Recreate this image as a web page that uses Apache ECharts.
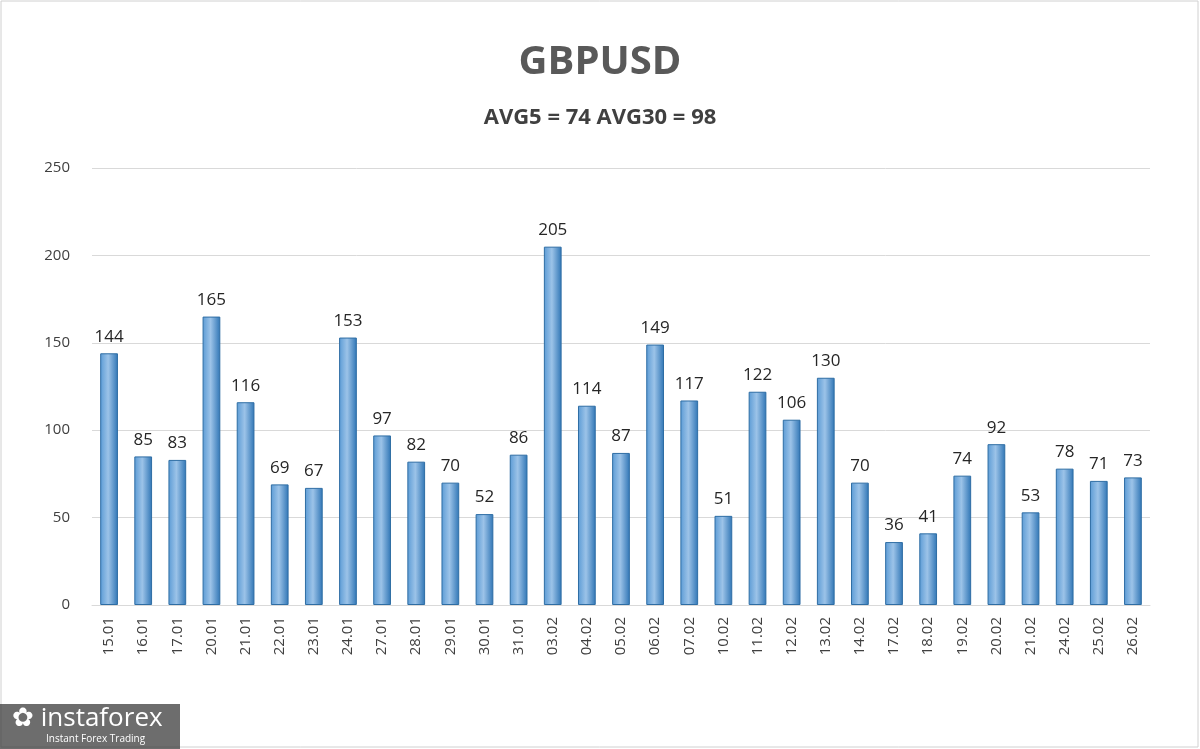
<!DOCTYPE html>
<html><head><meta charset="utf-8">
<script src="https://cdn.jsdelivr.net/npm/echarts@6/dist/echarts.min.js"></script>
<style>html,body{margin:0;padding:0;background:#fff}#c{width:1200px;height:749px}</style>
</head><body><div id="c"></div>
<script>
const dates = ['15.01','16.01','17.01','20.01','21.01','22.01','23.01','24.01','27.01','28.01','29.01','30.01','31.01','03.02','04.02','05.02','06.02','07.02','10.02','11.02','12.02','13.02','14.02','17.02','18.02','19.02','20.02','21.02','24.02','25.02','26.02'];
const values = [144,85,83,165,116,69,67,153,97,82,70,52,86,205,114,87,149,117,51,122,106,130,70,36,41,74,92,53,78,71,73];
const yTicks = [0, 50, 100, 150, 200, 250];

const chart = echarts.init(document.getElementById('c'));
chart.setOption({
  animation: false,
  backgroundColor: '#fff',
  title: [{
    text: 'GBPUSD', left: 'center', top: 38,
    textStyle: { fontSize: 40, fontWeight: 'bold', color: '#595959', fontFamily: 'Open Sans' }
  }, {
    text: 'AVG5 = 74 AVG30 = 98', left: 'center', top: 102,
    textStyle: { fontSize: 22, fontWeight: 'bold', color: '#404040', fontFamily: 'Open Sans' }
  }],
  graphic: [{
    type: 'rect', shape: { x: 1, y: 1, width: 1197, height: 746 },
    style: { fill: 'none', stroke: '#d0d0d0', lineWidth: 1 }
  }, {
    type: 'rect', shape: { x: 0, y: 704, width: 180, height: 45 },
    style: { fill: 'rgba(60,60,60,0.75)' }
  }, {
    type: 'text', left: 12, top: 706,
    style: { text: '✿ instaforex', fill: '#fff', font: '26px "Open Sans"' }
  }, {
    type: 'text', left: 46, top: 734,
    style: { text: 'Instant Forex Trading', fill: '#fff', font: '10px "Open Sans"' }
  }],
  grid: { left: 92, right: 50, top: 168, bottom: 144 },
  xAxis: {
    type: 'category', data: dates,
    axisTick: { show: false },
    axisLine: { lineStyle: { color: '#d9d9d9' } },
    axisLabel: { rotate: 90, color: '#404040', fontSize: 15, fontFamily: 'Open Sans', margin: 12 }
  },
  yAxis: {
    type: 'value', min: yTicks[0], max: yTicks[yTicks.length - 1], interval: 50,
    axisLine: { show: false }, axisTick: { show: false },
    axisLabel: { color: '#404040', fontSize: 15, fontFamily: 'Open Sans', margin: 22 },
    splitLine: { lineStyle: { color: '#d9d9d9' } }
  },
  series: [{
    type: 'bar', data: values, barWidth: '52%',
    itemStyle: {
      color: new echarts.graphic.LinearGradient(0, 0, 1, 0, [
        { offset: 0, color: '#5b9bd5' },
        { offset: 0.45, color: '#9cc3e8' },
        { offset: 1, color: '#2f75b5' }
      ]),
      borderColor: '#2e6da4', borderWidth: 1
    },
    label: { show: true, position: 'top', color: '#262626', fontSize: 17, fontFamily: 'Open Sans', distance: 8 }
  }]
});
</script></body></html>
